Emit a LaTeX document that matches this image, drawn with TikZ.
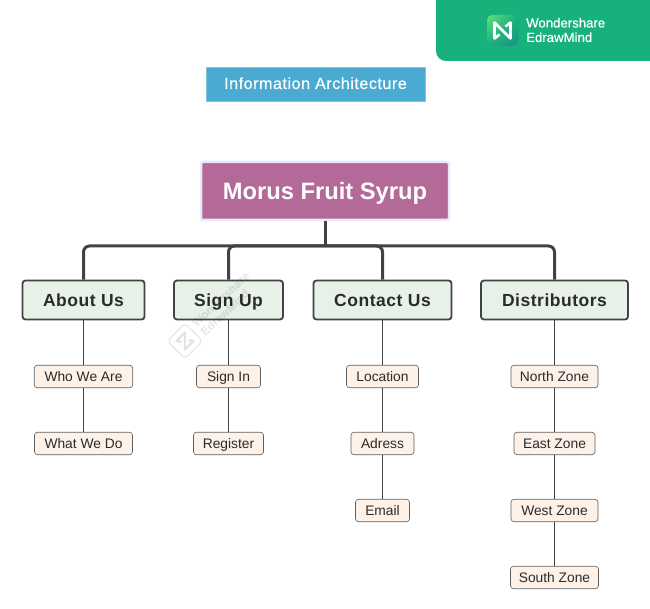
\documentclass[tikz,border=0pt]{standalone}
\usepackage{fontspec}
\setmainfont{Liberation Sans}
\newfontfamily\widefont[LetterSpace=3]{Liberation Sans}
\newfontfamily\titlefont[LetterSpace=3,FakeBold=0.3]{Liberation Sans}
\newfontfamily\logofont[FakeBold=0.4]{Liberation Sans}
\usetikzlibrary{calc,shadings}
\definecolor{brand}{HTML}{17B17B}
\definecolor{rootc}{HTML}{B36A98}
\definecolor{halo}{HTML}{E9E9FB}
\definecolor{titlec}{HTML}{4BAAD1}
\definecolor{mainc}{HTML}{E7F1E8}
\definecolor{leafc}{HTML}{FDF1E8}
\definecolor{grau}{HTML}{424242}
\definecolor{tinte}{HTML}{2B2B2B}
\definecolor{logoa}{HTML}{5FE07A}
\definecolor{logob}{HTML}{1C8F8A}
\tikzset{
  titlebox/.style={text height=10pt,text depth=0pt,inner sep=0pt,fill=titlec,draw=titlec!70!white,line width=0.6pt,text=white,font=\titlefont\fontsize{16.2}{18}\selectfont},
  rootbox/.style={text height=17pt,text depth=0pt,inner sep=0pt,fill=rootc,draw=halo,line width=2.5pt,rounded corners=2pt,text=white,font=\bfseries\fontsize{23.7}{26}\selectfont},
  mainbox/.style={text height=12.6pt,text depth=0pt,inner sep=0pt,fill=mainc,draw=grau,line width=1.8pt,rounded corners=3pt,text=tinte,minimum height=39,font=\widefont\bfseries\fontsize{17.5}{20}\selectfont},
  leafbox/.style={text height=10pt,text depth=0pt,inner sep=0pt,fill=leafc,draw=grau!85,line width=0.6pt,rounded corners=3pt,text=tinte,minimum height=22.5,font=\fontsize{13.8}{16}\selectfont},
  bus/.style={grau,line width=3pt,rounded corners=6pt},
  stem/.style={grau,line width=0.8pt},
  logotext/.style={white,align=left,inner sep=0pt,font=\logofont\fontsize{13.2}{14.5}\selectfont},
  marktext/.style={text opacity=0.1,align=left,inner sep=0pt,rotate=43,font=\bfseries\fontsize{11.5}{12.5}\selectfont},
  markline/.style={black,opacity=0.11,line join=round},
}
\begin{document}
\begin{tikzpicture}[x=1pt,y=-1pt]
  \useasboundingbox (0,0) rectangle (650,609);
  % banner
  \fill[brand,rounded corners=10pt] (436,-20) rectangle (670,61);
  \begin{scope}[shift={(502.5,30.5)}]
    \shade[rounded corners=5pt,upper left=logoa,lower left=brand,upper right=brand,lower right=logob] (-15.5,-15.5) rectangle (15.5,15.5);
    \draw[white,line width=2.6pt,line join=round] (-3,4)--(-8,8)--(-8,-8)--(8,8)--(8,-8)--(3,-4);
  \end{scope}
  \node[logotext,anchor=west] (logo) at (526,30) {Wondershare\\EdrawMind};
  % nodes
  \node[titlebox,minimum width=219,minimum height=34] (title) at (315.5,84) {Information Architecture};
  \node[rootbox,minimum width=248,minimum height=58] (root) at (325,191) {Morus Fruit Syrup};
  \coordinate (hub) at (325,246);
  \node[mainbox,minimum width=122] (about) at (83.5,300) {About Us};
  \node[mainbox,minimum width=109] (signup) at (228.5,300) {Sign Up};
  \node[mainbox,minimum width=138] (contact) at (382.5,300) {Contact Us};
  \node[mainbox,minimum width=147] (distrib) at (554.5,300) {Distributors};
  \node[leafbox,minimum width=98.5] (who) at (83.5,376.5) {Who We Are};
  \node[leafbox,minimum width=98] (what) at (83.5,443.5) {What We Do};
  \node[leafbox,minimum width=64] (signin) at (228.5,376.5) {Sign In};
  \node[leafbox,minimum width=70] (register) at (228.5,443.5) {Register};
  \node[leafbox,minimum width=72] (location) at (382.5,376.5) {Location};
  \node[leafbox,minimum width=63] (adress) at (382.5,443.5) {Adress};
  \node[leafbox,minimum width=54] (email) at (382.5,510.5) {Email};
  \node[leafbox,minimum width=87] (north) at (554.5,376.5) {North Zone};
  \node[leafbox,minimum width=81] (east) at (554.5,443.5) {East Zone};
  \node[leafbox,minimum width=87] (west) at (554.5,510.5) {West Zone};
  \node[leafbox,minimum width=88] (south) at (554.5,577.5) {South Zone};
  % connectors
  \draw[grau,line width=3pt] (root.south) -- (hub);
  \foreach \n in {about,signup,contact,distrib}
    \draw[bus] (hub) -| (\n.north);
  \draw[stem] (about) -- (who);
  \draw[stem] (who) -- (what);
  \draw[stem] (signup) -- (signin);
  \draw[stem] (signin) -- (register);
  \draw[stem] (contact) -- (location);
  \draw[stem] (location) -- (adress);
  \draw[stem] (adress) -- (email);
  \draw[stem] (distrib) -- (north);
  \draw[stem] (north) -- (east);
  \draw[stem] (east) -- (west);
  \draw[stem] (west) -- (south);
  % watermark
  \begin{scope}[shift={(185,341)},rotate=-45]
    \draw[markline,line width=1pt,rounded corners=4pt] (-12.5,-12.5) rectangle (12.5,12.5);
    \draw[markline,line width=2.4pt] (-2,3)--(-6,6)--(-6,-6)--(6,6)--(6,-6)--(2,-3);
  \end{scope}
  \node[marktext] (mark) at (225,304) {Wondershare\\EdrawMind};
\end{tikzpicture}
\end{document}
